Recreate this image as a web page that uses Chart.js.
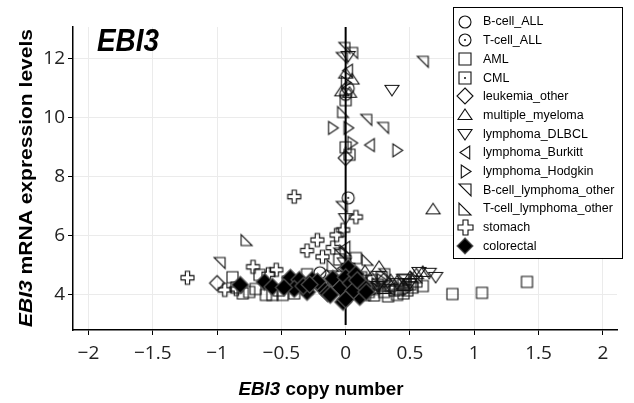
<!DOCTYPE html>
<html>
<head>
<meta charset="utf-8">
<script src="https://cdn.jsdelivr.net/npm/chart.js@4.4.1/dist/chart.umd.min.js"></script>
<style>
  html, body { margin: 0; padding: 0; background: #fff; }
</style>
</head>
<body>
<canvas id="chart" width="634" height="403"></canvas>
<script>
// Categories (legend order) and the marker used for each one
const categories = [
  "B-cell_ALL", "T-cell_ALL", "AML", "CML", "leukemia_other", "multiple_myeloma",
  "lymphoma_DLBCL", "lymphoma_Burkitt", "lymphoma_Hodgkin", "B-cell_lymphoma_other",
  "T-cell_lymphoma_other", "stomach", "colorectal"
];
const markers = [
  "circle", "circleDot", "square", "squareDot", "diamond", "triUp",
  "triDown", "triLeft", "triRight", "cornerTR", "cornerBL", "plus", "diamondFilled"
];

// Copy number (x) and mRNA expression (y) per category
const bcellAllX = [0.02, -0.20, 0.05, -0.10, 0.20];
const bcellAllY = [11.0, 4.75, 4.30, 4.50, 4.20];
const tcellAllX = [0.02, 0.00, 0.10, -0.05];
const tcellAllY = [7.29, 10.8, 4.40, 4.60];
const amlX = [0.00, 0.03, -0.88, -0.67, -0.57, -0.49, 0.83, 1.06, 1.41, 0.42, 0.35, 0.30, 0.25, 0.48, 0.52, 0.20, 0.15, -0.75, -0.45, 0.08, -0.05, 0.40, 0.10, 0.28, -0.62, 0.55, 0.18, 0.33, 0.45, -0.80, -0.30, 0.60, 0.38, -0.70, -0.52, -0.40, -0.85, 0.22, 0.12];
const amlY = [10.6, 8.75, 4.60, 4.68, 4.00, 4.00, 4.03, 4.07, 4.44, 4.20, 4.30, 4.10, 4.35, 4.15, 4.25, 4.50, 4.00, 4.10, 4.45, 5.25, 5.20, 4.00, 4.25, 4.60, 4.00, 4.45, 4.10, 3.95, 4.35, 4.05, 4.70, 4.30, 4.15, 4.20, 4.15, 4.05, 4.25, 3.98, 4.60];
const cmlX = [0.30, 0.45, -0.30, 0.12, 0.00, 0.22, 0.50];
const cmlY = [4.30, 4.05, 4.20, 4.40, 9.00, 4.20, 4.35];
const leukOtherX = [-1.00, 0.00, 0.10, -0.15, 0.30];
const leukOtherY = [4.40, 8.64, 4.40, 4.60, 4.50];
const myelomaX = [0.68, 0.00, -0.03, 0.03, 0.26, 0.60, 0.20, 0.35, 0.45, 0.50, 0.15, 0.05, 0.30, 0.40, 0.55, 0.10];
const myelomaY = [6.90, 11.5, 10.9, 10.85, 4.95, 4.78, 4.60, 4.50, 4.30, 4.60, 4.80, 11.3, 4.20, 4.45, 4.70, 4.50];
const dlbclX = [0.36, 0.00, 0.57, 0.70, 0.65, 0.02, 0.40, 0.50, -0.01, 0.25, 0.45];
const dlbclY = [10.95, 6.60, 4.78, 4.61, 4.75, 12.1, 4.40, 4.40, 5.10, 4.30, 4.55];
const burkittX = [0.19, 0.00, 0.02, 0.10, 0.35, -0.02];
const burkittY = [9.08, 5.60, 11.6, 4.50, 4.20, 4.90];
const hodgkinX = [-0.10, 0.02, 0.05, 0.40, 0.00, 0.20, 0.28, 0.48];
const hodgkinY = [9.66, 9.66, 9.15, 8.90, 11.2, 4.30, 4.50, 4.20];
const bLymphX = [-0.01, -0.03, 0.60, 0.16, 0.29, -0.98, -0.03, 0.30, 0.45, 0.05, -0.05];
const bLymphY = [12.37, 12.03, 11.9, 9.93, 9.66, 5.08, 6.98, 4.70, 4.50, 12.2, 5.40];
const tLymphX = [-0.77, 0.17, 0.00, -0.10, 0.05, -0.02, 0.55, 0.25];
const tLymphY = [5.86, 5.19, 5.50, 5.00, 4.80, 10.2, 4.60, 4.40];
const stomachX = [-0.40, 0.08, -0.22, -0.07, -0.18, -1.23, -0.94, -0.72, -0.54, -0.02, 0.02, -0.30, -0.60, -0.85, -0.10];
const stomachY = [7.33, 6.64, 5.86, 6.03, 5.29, 4.58, 4.17, 4.95, 4.85, 6.20, 5.00, 5.50, 4.70, 4.20, 5.60];
const colorectalX = [-0.82, -0.63, -0.57, -0.43, -0.36, -0.30, -0.26, -0.18, -0.07, 0.02, -0.02, 0.11, 0.11, -0.40, -0.33, -0.22, -0.14, -0.10, -0.04, 0.00, 0.04, 0.06, 0.08, 0.14, -0.48, -0.12, 0.00, 0.09, -0.28, 0.16];
const colorectalY = [4.34, 4.44, 4.27, 4.58, 4.51, 4.10, 4.51, 4.24, 4.44, 4.92, 3.76, 4.34, 3.93, 4.20, 4.30, 4.45, 4.05, 4.55, 4.25, 4.60, 4.40, 4.15, 4.70, 4.30, 4.25, 4.00, 3.85, 4.50, 4.35, 4.10];

const seriesX = [bcellAllX, tcellAllX, amlX, cmlX, leukOtherX, myelomaX, dlbclX, burkittX, hodgkinX, bLymphX, tLymphX, stomachX, colorectalX];
const seriesY = [bcellAllY, tcellAllY, amlY, cmlY, leukOtherY, myelomaY, dlbclY, burkittY, hodgkinY, bLymphY, tLymphY, stomachY, colorectalY];

// Vertical reference line at copy number 0
const refLineX = [0, 0];
const refLineY = [2.98, 13.08];

// Tick labels
const xTickValues = [-2, -1.5, -1, -0.5, 0, 0.5, 1, 1.5, 2];
const yTickValues = [4, 6, 8, 10, 12];

// Draw one marker shape on a small canvas, used as pointStyle
function makeMarker(kind, s) {
  const n = Math.ceil(s) + 6;
  const cv = document.createElement("canvas");
  cv.width = n; cv.height = n;
  const g = cv.getContext("2d");
  g.translate(n / 2, n / 2);
  g.lineWidth = 1.1;
  g.strokeStyle = "#111";
  const h = s / 2;
  g.beginPath();
  if (kind === "circle" || kind === "circleDot") {
    g.arc(0, 0, h, 0, Math.PI * 2);
  } else if (kind === "square" || kind === "squareDot") {
    g.rect(-h, -h, s, s);
  } else if (kind === "diamond" || kind === "diamondFilled") {
    g.moveTo(0, -h); g.lineTo(h, 0); g.lineTo(0, h); g.lineTo(-h, 0); g.closePath();
  } else if (kind === "triUp") {
    g.moveTo(0, -h * 0.85); g.lineTo(h, h * 0.65); g.lineTo(-h, h * 0.65); g.closePath();
  } else if (kind === "triDown") {
    g.moveTo(0, h * 0.85); g.lineTo(h, -h * 0.65); g.lineTo(-h, -h * 0.65); g.closePath();
  } else if (kind === "triLeft") {
    g.moveTo(-h * 0.85, 0); g.lineTo(h * 0.65, -h); g.lineTo(h * 0.65, h); g.closePath();
  } else if (kind === "triRight") {
    g.moveTo(h * 0.85, 0); g.lineTo(-h * 0.65, -h); g.lineTo(-h * 0.65, h); g.closePath();
  } else if (kind === "cornerTR") {
    g.moveTo(-h, -h); g.lineTo(h, -h); g.lineTo(h, h); g.closePath();
  } else if (kind === "cornerBL") {
    g.moveTo(-h, -h); g.lineTo(-h, h); g.lineTo(h, h); g.closePath();
  } else if (kind === "plus") {
    const a = s / 6;
    g.moveTo(-a, -h); g.lineTo(a, -h); g.lineTo(a, -a); g.lineTo(h, -a); g.lineTo(h, a);
    g.lineTo(a, a); g.lineTo(a, h); g.lineTo(-a, h); g.lineTo(-a, a); g.lineTo(-h, a);
    g.lineTo(-h, -a); g.lineTo(-a, -a); g.closePath();
  }
  if (kind === "diamondFilled") {
    g.fillStyle = "#000";
    g.fill();
    g.strokeStyle = "#555";
  }
  g.stroke();
  if (kind === "circleDot" || kind === "squareDot") {
    g.beginPath();
    g.arc(0, 0, 1, 0, Math.PI * 2);
    g.fillStyle = "#111";
    g.fill();
  }
  return cv;
}

const plotSize = { circle: 12, circleDot: 12, square: 11, squareDot: 11, diamond: 15, diamondFilled: 17,
  triUp: 14, triDown: 14, triLeft: 13, triRight: 13, cornerTR: 11, cornerBL: 11, plus: 13 };
const legendSize = { circle: 12, circleDot: 12, square: 12, squareDot: 12, diamond: 16, diamondFilled: 16,
  triUp: 14, triDown: 14, triLeft: 13, triRight: 13, cornerTR: 12, cornerBL: 12, plus: 15 };

const datasets = categories.map((name, i) => ({
  label: name,
  data: seriesX[i].map((x, j) => ({ x: x, y: seriesY[i][j] })),
  pointStyle: makeMarker(markers[i], plotSize[markers[i]]),
  pointRadius: 6,
  order: name === "colorectal" ? 0 : 2,
}));
datasets.push({
  label: "zero",
  data: refLineX.map((x, j) => ({ x: x, y: refLineY[j] })),
  showLine: true,
  borderColor: "#000",
  borderWidth: 2,
  pointRadius: 0,
  order: 1,
});

// Axis titles, panel title and the boxed legend are drawn here
const decorations = {
  id: "decorations",
  afterDraw(chart) {
    const ctx = chart.ctx;
    ctx.save();
    ctx.fillStyle = "#000";
    ctx.textBaseline = "alphabetic";

    // panel title
    ctx.font = "italic bold 31px 'Liberation Sans'";
    ctx.textAlign = "left";
    const tw = ctx.measureText("EBI3").width;
    ctx.save();
    ctx.translate(97, 51);
    ctx.scale(62 / tw, 1);
    ctx.fillText("EBI3", 0, 0);
    ctx.restore();

    // mixed italic / plain title, stretched along the text to a given length
    function mixed(parts, cx, cy, rot, len) {
      ctx.save();
      ctx.translate(cx, cy);
      if (rot) ctx.rotate(-Math.PI / 2);
      let total = 0;
      parts.forEach(p => { ctx.font = p[1]; total += ctx.measureText(p[0]).width; });
      if (len) ctx.scale(len / total, 1);
      let x = -total / 2;
      parts.forEach(p => {
        ctx.font = p[1];
        ctx.fillText(p[0], x, 0);
        x += ctx.measureText(p[0]).width;
      });
      ctx.restore();
    }
    const it = "italic bold 19px 'Liberation Sans'";
    const bd = "bold 19px 'Liberation Sans'";
    mixed([["EBI3", it], [" copy number", bd]], 321, 395, false, 165);
    mixed([["EBI3", it], [" mRNA expression levels", bd]], 32, 178, true, 298);

    // legend box
    const lx = 453, ly = 7, lw = 169, lh = 251;
    ctx.fillStyle = "#fff";
    ctx.fillRect(lx, ly, lw, lh);
    ctx.strokeStyle = "#000";
    ctx.lineWidth = 1;
    ctx.strokeRect(lx + 0.5, ly + 0.5, lw, lh);
    ctx.font = "12.5px 'Liberation Sans'";
    ctx.fillStyle = "#000";
    ctx.textBaseline = "middle";
    categories.forEach((name, i) => {
      const y = 21.5 + i * 18.7;
      const m = makeMarker(markers[i], legendSize[markers[i]]);
      ctx.drawImage(m, Math.round(465 - m.width / 2), Math.round(y - m.height / 2));
      ctx.fillText(name, 483, y + 0.5);
    });
    ctx.restore();
  }
};

const tickFont = { family: "'Open Sans'", size: 19 };
new Chart(document.getElementById("chart"), {
  type: "scatter",
  data: { datasets: datasets },
  options: {
    responsive: false,
    animation: false,
    events: [],
    layout: { padding: { top: 27, right: 17, left: 0, bottom: 0 } },
    plugins: { legend: { display: false }, tooltip: { enabled: false } },
    scales: {
      x: {
        type: "linear",
        min: -2.12,
        max: 2.11,
        afterBuildTicks: s => { s.ticks = xTickValues.map(v => ({ value: v })); },
        afterFit: s => { s.height = 73; },
        grid: { color: "#ebebeb", tickColor: "#000", tickLength: 5, lineWidth: 1 },
        border: { color: "#000", width: 1.5 },
        ticks: { font: tickFont, color: "#222", padding: 7, maxRotation: 0,
          callback: v => String(v).replace("-", "\u2212") },
      },
      y: {
        type: "linear",
        min: 2.81,
        max: 13.08,
        afterBuildTicks: s => { s.ticks = yTickValues.map(v => ({ value: v })); },
        afterFit: s => { s.width = 73; },
        grid: { color: "#ebebeb", tickColor: "#000", tickLength: 5, lineWidth: 1 },
        border: { color: "#000", width: 1.5 },
        ticks: { font: tickFont, color: "#222", padding: 3,
          callback: v => String(v) },
      },
    },
  },
  plugins: [decorations],
});
</script>
</body>
</html>
